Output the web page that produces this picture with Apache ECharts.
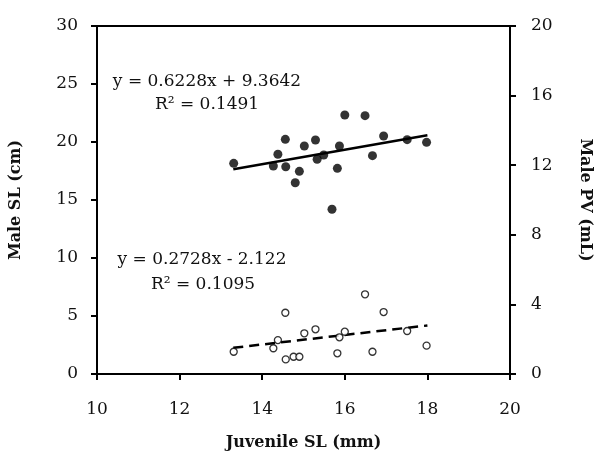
<!DOCTYPE html>
<html><head><meta charset="utf-8">
<script src="https://cdn.jsdelivr.net/npm/echarts@6/dist/echarts.min.js"></script>
<style>html,body{margin:0;padding:0;background:#fff}#c{width:601px;height:459px}</style>
</head><body><div id="c"></div>
<script>
// Juvenile SL (mm) for male SL points
const slX = [13.31,14.27,14.38,14.56,14.57,14.80,14.90,15.02,15.29,15.33,15.49,15.69,15.82,15.87,16.00,16.49,16.67,16.94,17.51,17.98];
const slY = [18.16,17.93,18.94,20.23,17.87,16.49,17.47,19.66,20.17,18.51,18.88,14.20,17.73,19.66,22.33,22.27,18.82,20.52,20.20,19.97];
// Juvenile SL (mm) for male PV points
const pvX = [13.31,14.27,14.38,14.56,14.57,14.76,14.90,15.02,15.29,15.82,15.87,16.00,16.49,16.67,16.94,17.51,17.98];
const pvY = [1.28,1.48,1.95,3.52,0.84,0.99,0.99,2.34,2.57,1.19,2.11,2.43,4.58,1.28,3.56,2.47,1.63];
// trendlines
const slFit = {slope: 0.6228, intercept: 9.3642};
const pvFit = {slope: 0.2728, intercept: -2.122};
const fitRange = [13.3, 18.0];
const xTicks = {min: 10, max: 20, interval: 2};
const yLeftTicks = {min: 0, max: 30, interval: 5};
const yRightTicks = {min: 0, max: 20, interval: 4};

const FONT = 'DejaVu Serif';
const chart = echarts.init(document.getElementById('c'), null, {renderer: 'canvas'});
const pair = (xs, ys) => xs.map((x, i) => [x, ys[i]]);
const fitLine = f => fitRange.map(x => [x, f.slope * x + f.intercept]);

const axisCommon = {
  axisLine: {show: true, lineStyle: {color: '#000', width: 2}},
  axisTick: {show: true, inside: false, length: 6, lineStyle: {color: '#000', width: 2}},
  splitLine: {show: false},
  axisLabel: {color: '#111', fontFamily: FONT, fontSize: 17},
  nameTextStyle: {color: '#111', fontFamily: FONT, fontSize: 16, fontWeight: 'bold'},
  nameLocation: 'middle'
};

chart.setOption({
  animation: false,
  backgroundColor: '#fff',
  grid: {left: 95, right: 81, top: 26, bottom: 85, show: true, borderColor: '#000', borderWidth: 2, containLabel: false},
  xAxis: Object.assign({}, axisCommon, {
    type: 'value', min: xTicks.min, max: xTicks.max, interval: xTicks.interval,
    name: 'Juvenile SL (mm)', nameGap: 61,
    axisLabel: Object.assign({}, axisCommon.axisLabel, {margin: 27})
  }),
  yAxis: [
    Object.assign({}, axisCommon, {
      type: 'value', position: 'left', min: yLeftTicks.min, max: yLeftTicks.max, interval: yLeftTicks.interval,
      name: 'Male SL (cm)', nameGap: 73,
      axisLabel: Object.assign({}, axisCommon.axisLabel, {margin: 19})
    }),
    Object.assign({}, axisCommon, {
      type: 'value', position: 'right', min: yRightTicks.min, max: yRightTicks.max, interval: yRightTicks.interval,
      name: 'Male PV (mL)', nameGap: 67, nameRotate: -90,
      axisLabel: Object.assign({}, axisCommon.axisLabel, {margin: 21})
    })
  ],
  series: [
    {type: 'line', yAxisIndex: 0, data: fitLine(slFit), symbol: 'none',
     lineStyle: {color: '#000', width: 2.5}, z: 2},
    {type: 'line', yAxisIndex: 1, data: fitLine(pvFit), symbol: 'none',
     lineStyle: {color: '#000', width: 2.5, type: [10, 6]}, z: 2},
    {type: 'scatter', yAxisIndex: 0, data: pair(slX, slY), symbol: 'circle', symbolSize: 9,
     itemStyle: {color: '#000'}, z: 3},
    {type: 'scatter', yAxisIndex: 1, data: pair(pvX, pvY), symbol: 'circle', symbolSize: 7,
     itemStyle: {color: '#fff', borderColor: '#000', borderWidth: 1.3}, z: 3}
  ],
  graphic: [
    {type: 'text', x: 207, y: 82, style: {text: 'y = 0.6228x + 9.3642', font: '17px "' + FONT + '"', fill: '#111', align: 'center', verticalAlign: 'middle'}},
    {type: 'text', x: 207, y: 105, style: {text: 'R² = 0.1491', font: '17px "' + FONT + '"', fill: '#111', align: 'center', verticalAlign: 'middle'}},
    {type: 'text', x: 202, y: 260, style: {text: 'y = 0.2728x - 2.122', font: '17px "' + FONT + '"', fill: '#111', align: 'center', verticalAlign: 'middle'}},
    {type: 'text', x: 203, y: 285, style: {text: 'R² = 0.1095', font: '17px "' + FONT + '"', fill: '#111', align: 'center', verticalAlign: 'middle'}}
  ]
});
</script></body></html>
